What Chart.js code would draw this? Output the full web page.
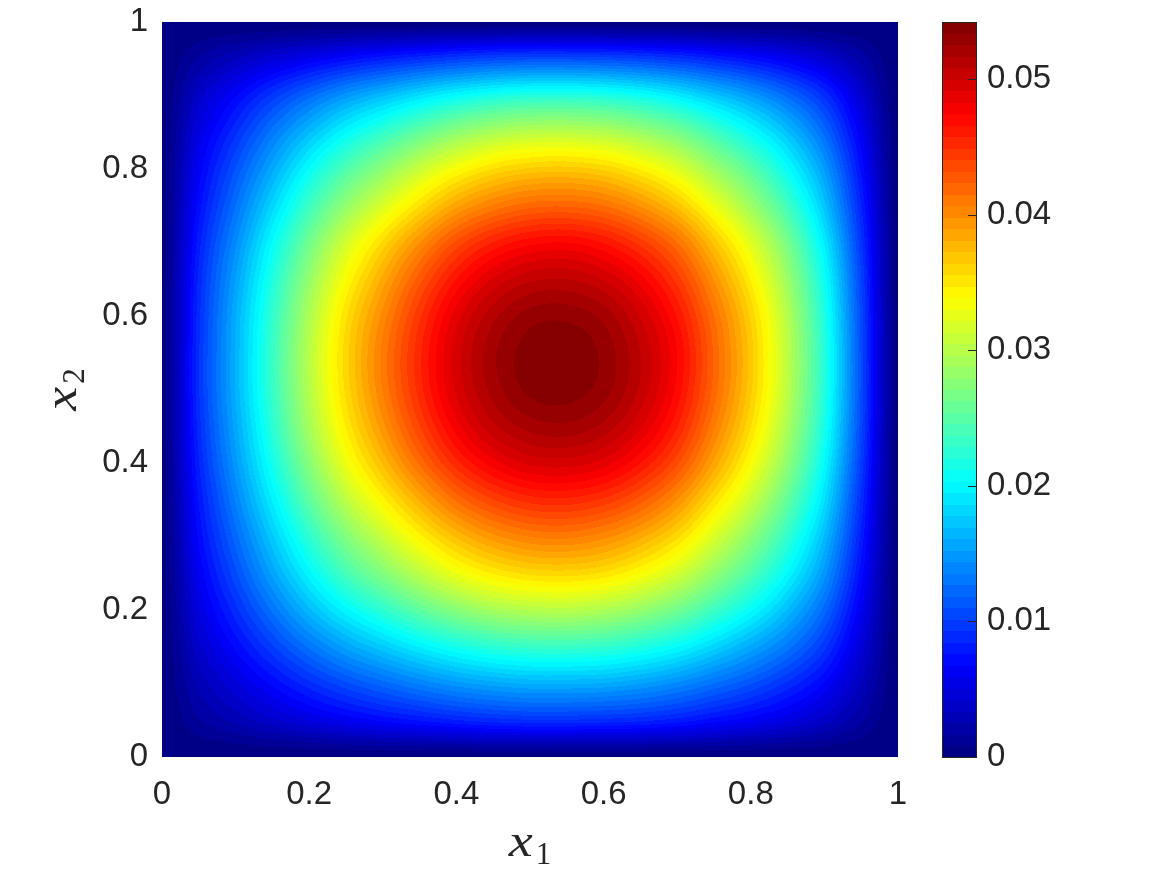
<!DOCTYPE html>
<html>
<head>
<meta charset="utf-8">
<script src="https://cdn.jsdelivr.net/npm/chart.js@4/dist/chart.umd.min.js"></script>
<style>
  html, body { margin: 0; padding: 0; background: #ffffff; }
  #wrap { width: 1167px; height: 875px; }
</style>
</head>
<body>
<div id="wrap"><canvas id="c" width="1167" height="875"></canvas></div>
<script>
// grid coordinates (x1 along columns, x2 along rows)
const xs = [0,0.05,0.1,0.15,0.2,0.25,0.3,0.35,0.4,0.45,0.5,0.55,0.6,0.65,0.7,0.75,0.8,0.85,0.9,0.95,1];
const ys = [0,0.05,0.1,0.15,0.2,0.25,0.3,0.35,0.4,0.45,0.5,0.55,0.6,0.65,0.7,0.75,0.8,0.85,0.9,0.95,1];

// field values, Z[row for ys[j]][column for xs[i]]
const Z = [
[0,0,0,0,0,0,0,0,0,0,0,0,0,0,0,0,0,0,0,0,0],
[0,0.0016,0.0028,0.0040,0.0051,0.0061,0.0070,0.0077,0.0084,0.0089,0.0092,0.0092,0.0090,0.0087,0.0081,0.0072,0.0063,0.0052,0.0038,0.0018,0],
[0,0.0028,0.0049,0.0070,0.0090,0.0108,0.0123,0.0137,0.0149,0.0157,0.0162,0.0162,0.0160,0.0153,0.0142,0.0127,0.0111,0.0091,0.0067,0.0033,0],
[0,0.0040,0.0070,0.0100,0.0129,0.0155,0.0176,0.0196,0.0213,0.0225,0.0232,0.0233,0.0229,0.0219,0.0204,0.0182,0.0158,0.0131,0.0096,0.0047,0],
[0,0.0051,0.0090,0.0129,0.0167,0.0200,0.0227,0.0253,0.0275,0.0291,0.0299,0.0301,0.0295,0.0282,0.0263,0.0235,0.0205,0.0168,0.0123,0.0060,0],
[0,0.0061,0.0108,0.0155,0.0200,0.0240,0.0272,0.0303,0.0330,0.0348,0.0358,0.0360,0.0354,0.0338,0.0315,0.0281,0.0245,0.0202,0.0148,0.0072,0],
[0,0.0070,0.0123,0.0176,0.0227,0.0272,0.0309,0.0344,0.0374,0.0395,0.0407,0.0409,0.0401,0.0384,0.0358,0.0319,0.0278,0.0229,0.0168,0.0082,0],
[0,0.0077,0.0137,0.0196,0.0253,0.0303,0.0344,0.0382,0.0417,0.0440,0.0453,0.0455,0.0447,0.0428,0.0398,0.0355,0.0310,0.0255,0.0187,0.0091,0],
[0,0.0084,0.0149,0.0213,0.0275,0.0330,0.0374,0.0417,0.0454,0.0479,0.0493,0.0495,0.0487,0.0466,0.0434,0.0387,0.0337,0.0278,0.0203,0.0099,0],
[0,0.0089,0.0157,0.0225,0.0291,0.0348,0.0395,0.0440,0.0479,0.0506,0.0520,0.0523,0.0514,0.0492,0.0458,0.0408,0.0356,0.0293,0.0215,0.0105,0],
[0,0.0092,0.0162,0.0232,0.0299,0.0358,0.0407,0.0453,0.0493,0.0520,0.0536,0.0538,0.0529,0.0506,0.0471,0.0420,0.0366,0.0302,0.0221,0.0108,0],
[0,0.0092,0.0162,0.0233,0.0301,0.0360,0.0409,0.0455,0.0495,0.0523,0.0538,0.0541,0.0531,0.0508,0.0474,0.0422,0.0368,0.0303,0.0222,0.0108,0],
[0,0.0090,0.0160,0.0229,0.0295,0.0354,0.0401,0.0447,0.0487,0.0514,0.0529,0.0531,0.0522,0.0499,0.0465,0.0415,0.0362,0.0298,0.0218,0.0106,0],
[0,0.0087,0.0153,0.0219,0.0282,0.0338,0.0384,0.0428,0.0466,0.0492,0.0506,0.0508,0.0499,0.0478,0.0445,0.0397,0.0346,0.0285,0.0209,0.0102,0],
[0,0.0081,0.0142,0.0204,0.0263,0.0315,0.0358,0.0398,0.0434,0.0458,0.0471,0.0474,0.0465,0.0445,0.0415,0.0370,0.0322,0.0266,0.0194,0.0095,0],
[0,0.0072,0.0127,0.0182,0.0235,0.0281,0.0319,0.0355,0.0387,0.0408,0.0420,0.0422,0.0415,0.0397,0.0370,0.0330,0.0287,0.0237,0.0173,0.0085,0],
[0,0.0063,0.0111,0.0158,0.0205,0.0245,0.0278,0.0310,0.0337,0.0356,0.0366,0.0368,0.0362,0.0346,0.0322,0.0287,0.0251,0.0206,0.0151,0.0074,0],
[0,0.0052,0.0091,0.0131,0.0168,0.0202,0.0229,0.0255,0.0278,0.0293,0.0302,0.0303,0.0298,0.0285,0.0266,0.0237,0.0206,0.0170,0.0124,0.0061,0],
[0,0.0038,0.0067,0.0096,0.0123,0.0148,0.0168,0.0187,0.0203,0.0215,0.0221,0.0222,0.0218,0.0209,0.0194,0.0173,0.0151,0.0124,0.0091,0.0044,0],
[0,0.0018,0.0033,0.0047,0.0060,0.0072,0.0082,0.0091,0.0099,0.0105,0.0108,0.0108,0.0106,0.0102,0.0095,0.0085,0.0074,0.0061,0.0044,0.0022,0],
[0,0,0,0,0,0,0,0,0,0,0,0,0,0,0,0,0,0,0,0,0]
];

// colour range, contour levels and tick labels
const zMin = 0;
const zMax = 0.0542;
const nLevels = 64;
const xTicks = [0, 0.2, 0.4, 0.6, 0.8, 1];
const xTickLabels = ['0', '0.2', '0.4', '0.6', '0.8', '1'];
const yTicks = [0, 0.2, 0.4, 0.6, 0.8, 1];
const yTickLabels = ['0', '0.2', '0.4', '0.6', '0.8', '1'];
const cbTicks = [0, 0.01, 0.02, 0.03, 0.04, 0.05];
const cbTickLabels = ['0', '0.01', '0.02', '0.03', '0.04', '0.05'];

const TEXT = '#262626';
const TICK_FONT = { family: '"Liberation Sans", Arial, Helvetica, sans-serif', size: 33 };

function clamp01(v) { return Math.max(0, Math.min(1, v)); }
function jet(t) {
  t = clamp01(t);
  return [
    Math.round(255 * clamp01(1.5 - Math.abs(4 * t - 3))),
    Math.round(255 * clamp01(1.5 - Math.abs(4 * t - 2))),
    Math.round(255 * clamp01(1.5 - Math.abs(4 * t - 1)))
  ];
}
const levelColors = [];
for (let k = 0; k < nLevels; k++) levelColors.push(jet((k + 0.5) / nLevels));

const points = [];
for (let j = 0; j < ys.length; j++) {
  for (let i = 0; i < xs.length; i++) {
    points.push({ x: xs[i], y: ys[j], v: Z[j][i] });
  }
}

// Catmull-Rom weights for smooth shading between grid nodes
function crWeights(t) {
  const t2 = t * t, t3 = t2 * t;
  return [
    0.5 * (-t3 + 2 * t2 - t),
    0.5 * (3 * t3 - 5 * t2 + 2),
    0.5 * (-3 * t3 + 4 * t2 + t),
    0.5 * (t3 - t2)
  ];
}

const heatmapPlugin = {
  id: 'heatmap',
  beforeDatasetsDraw(chart) {
    const { ctx, chartArea, scales } = chart;
    const xS = scales.x, yS = scales.y;
    const n = xs.length, m = ys.length;
    const pts = chart.data.datasets[0].data;
    const grid = [];
    for (let j = 0; j < m; j++) grid.push(pts.slice(j * n, (j + 1) * n).map(p => p.v));
    const get = (i, j) => grid[Math.max(0, Math.min(m - 1, j))][Math.max(0, Math.min(n - 1, i))];
    const L = Math.floor(chartArea.left), T = Math.floor(chartArea.top);
    const W = Math.ceil(chartArea.right) - L, H = Math.ceil(chartArea.bottom) - T;
    const off = document.createElement('canvas');
    off.width = W; off.height = H;
    const octx = off.getContext('2d');
    const img = octx.createImageData(W, H);
    const dx = xs[1] - xs[0], dy = ys[1] - ys[0];
    const colI = [], colW = [];
    for (let px = 0; px < W; px++) {
      const xv = xS.getValueForPixel(L + px + 0.5);
      let f = (xv - xs[0]) / dx;
      f = Math.max(0, Math.min(n - 1 - 1e-9, f));
      const i0 = Math.floor(f);
      colI.push(i0); colW.push(crWeights(f - i0));
    }
    for (let py = 0; py < H; py++) {
      const yv = yS.getValueForPixel(T + py + 0.5);
      let g = (yv - ys[0]) / dy;
      g = Math.max(0, Math.min(m - 1 - 1e-9, g));
      const j0 = Math.floor(g);
      const wy = crWeights(g - j0);
      for (let px = 0; px < W; px++) {
        const i0 = colI[px], wx = colW[px];
        let v = 0;
        for (let b = 0; b < 4; b++) {
          const jj = j0 - 1 + b;
          let rowSum = 0;
          for (let a = 0; a < 4; a++) rowSum += wx[a] * get(i0 - 1 + a, jj);
          v += wy[b] * rowSum;
        }
        let k = Math.floor((v - zMin) / (zMax - zMin) * nLevels);
        k = Math.max(0, Math.min(nLevels - 1, k));
        const c = levelColors[k];
        const idx = (py * W + px) * 4;
        img.data[idx] = c[0]; img.data[idx + 1] = c[1]; img.data[idx + 2] = c[2]; img.data[idx + 3] = 255;
      }
    }
    octx.putImageData(img, 0, 0);
    ctx.save();
    ctx.drawImage(off, L, T);
    ctx.restore();
  },
  afterDraw(chart) {
    const { ctx, chartArea, scales } = chart;
    const cb = scales.cb;
    // colour bar
    const bl = chartArea.right + 44, br = chartArea.right + 78;
    ctx.save();
    for (let k = 0; k < nLevels; k++) {
      const v0 = zMin + (zMax - zMin) * k / nLevels;
      const v1 = zMin + (zMax - zMin) * (k + 1) / nLevels;
      const c = levelColors[k];
      const y0 = cb.getPixelForValue(v0), y1 = cb.getPixelForValue(v1);
      ctx.fillStyle = 'rgb(' + c[0] + ',' + c[1] + ',' + c[2] + ')';
      ctx.fillRect(bl, Math.floor(y1), br - bl, Math.ceil(y0) - Math.floor(y1));
    }
    const cbTop = cb.getPixelForValue(zMax), cbBot = cb.getPixelForValue(zMin);
    ctx.strokeStyle = TEXT;
    ctx.lineWidth = 1;
    ctx.strokeRect(bl + 0.5, Math.round(cbTop) + 0.5, br - bl, Math.round(cbBot - cbTop));
    cbTicks.forEach(v => {
      const yy = Math.round(cb.getPixelForValue(v)) + 0.5;
      ctx.beginPath();
      ctx.moveTo(br - 8, yy);
      ctx.lineTo(br, yy);
      ctx.stroke();
    });
    // axis titles x_1 and x_2
    ctx.fillStyle = TEXT;
    ctx.textBaseline = 'alphabetic';
    ctx.textAlign = 'left';
    const mainFont = 'italic 47px "Liberation Serif", "Times New Roman", serif';
    const subFont = '31px "Liberation Serif", "Times New Roman", serif';
    const sx = 1.15;
    function drawLabel(sub) {
      ctx.font = mainFont;
      const w1 = ctx.measureText('x').width * sx;
      ctx.font = subFont;
      const w2 = ctx.measureText(sub).width;
      const total = w1 + 3 + w2;
      ctx.save();
      ctx.translate(-total / 2, 0);
      ctx.scale(sx, 1);
      ctx.font = mainFont;
      ctx.fillText('x', 0, 0);
      ctx.restore();
      ctx.font = subFont;
      ctx.fillText(sub, -total / 2 + w1 + 3, 8);
    }
    const cx = (chartArea.left + chartArea.right) / 2;
    const cy = (chartArea.top + chartArea.bottom) / 2;
    ctx.save();
    ctx.translate(cx, 856);
    drawLabel('1');
    ctx.restore();
    ctx.save();
    ctx.translate(76, cy);
    ctx.rotate(-Math.PI / 2);
    drawLabel('2');
    ctx.restore();
    ctx.restore();
  }
};

new Chart(document.getElementById('c'), {
  type: 'scatter',
  data: {
    datasets: [{
      label: 'u',
      data: points,
      pointRadius: 0,
      pointHoverRadius: 0,
      showLine: false
    }]
  },
  options: {
    responsive: false,
    devicePixelRatio: 1,
    animation: false,
    events: [],
    layout: { padding: { top: 22, left: 0, right: 0, bottom: 0 } },
    plugins: { legend: { display: false }, tooltip: { enabled: false } },
    scales: {
      x: {
        type: 'linear', min: 0, max: 1, position: 'bottom',
        grid: { display: false, drawTicks: false }, border: { display: false },
        afterBuildTicks: s => { s.ticks = xTicks.map(v => ({ value: v })); },
        ticks: {
          color: TEXT, font: TICK_FONT, padding: 18, maxRotation: 0, autoSkip: false,
          callback: (v, i) => xTickLabels[i]
        },
        afterFit: s => { s.height = 118; s.paddingLeft = 0; s.paddingRight = 0; }
      },
      y: {
        type: 'linear', min: 0, max: 1, position: 'left',
        grid: { display: false, drawTicks: false }, border: { display: false },
        afterBuildTicks: s => { s.ticks = yTicks.map(v => ({ value: v })); },
        ticks: {
          color: TEXT, font: TICK_FONT, padding: 14, autoSkip: false,
          callback: (v, i) => yTickLabels[i]
        },
        afterFit: s => { s.width = 162; s.paddingTop = 0; s.paddingBottom = 0; }
      },
      cb: {
        type: 'linear', min: zMin, max: zMax, position: 'right',
        grid: { display: false, drawTicks: false }, border: { display: false },
        afterBuildTicks: s => { s.ticks = cbTicks.map(v => ({ value: v })); },
        ticks: {
          color: TEXT, font: TICK_FONT, padding: 89, autoSkip: false,
          callback: (v, i) => cbTickLabels[i]
        },
        afterFit: s => { s.width = 269; s.paddingTop = 0; s.paddingBottom = 0; }
      }
    }
  },
  plugins: [heatmapPlugin]
});
</script>
</body>
</html>
